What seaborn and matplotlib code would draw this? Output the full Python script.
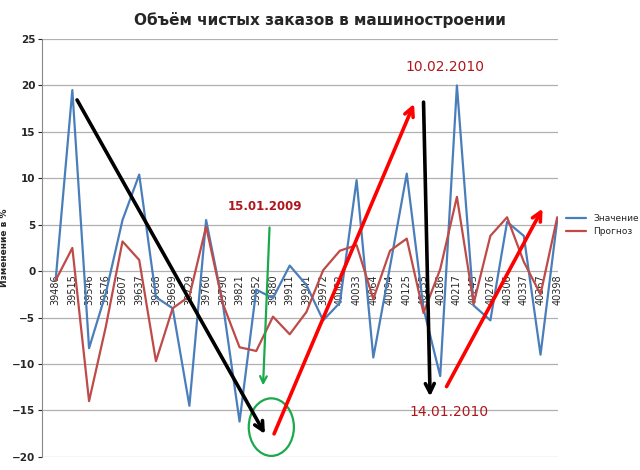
import matplotlib
matplotlib.use("Agg")
import matplotlib.pyplot as plt
from matplotlib.patches import Ellipse
import seaborn as sns
import pandas as pd

dates = [39486, 39515, 39546, 39576, 39607, 39637, 39668, 39699, 39729, 39760, 39790,
         39821, 39852, 39880, 39911, 39941, 39972, 40002, 40033, 40064, 40094, 40125,
         40155, 40186, 40217, 40245, 40276, 40306, 40337, 40367, 40398]
znach = [-1, 19.5, -8.3, -2.4, 5.5, 10.4, -2.8, -4, -14.5, 5.5, -3.5, -16.2, -2, -2.9, 0.6,
         -1.5, -5.3, -3.4, 9.8, -9.3, 0.5, 10.5, -4, -11.3, 20, -3.7, -5.3, 5.3, 3.8, -9, 5.5]
prognoz = [-1, 2.5, -14, -6, 3.2, 1.2, -9.7, -4, -2.7, 4.8, -3.5, -8.2, -8.6, -4.9, -6.8,
           -4.4, 0.1, 2.2, 2.8, -3, 2.2, 3.5, -4.5, 0.2, 8, -3.5, 3.8, 5.8, 1, -2.5, 5.8]

idx = list(range(len(dates)))
df = pd.DataFrame({"i": idx * 2, "v": znach + prognoz,
                   "s": ["Значение"] * len(idx) + ["Прогноз"] * len(idx)})

sns.set_style("white")
fig = plt.figure(figsize=(6.4, 4.7), dpi=100)
ax = fig.add_axes([0.066, 0.028, 0.806, 0.889])
sns.lineplot(data=df, x="i", y="v", hue="s", palette=["#4a7ebb", "#be4b48"], lw=1.6, ax=ax)
ax.set_xlim(-0.8, 30.05)
ax.set_ylim(-20, 25)
ax.set_yticks(range(-20, 26, 5))
ax.yaxis.grid(True, color="#b0b0b0", lw=0.9)
ax.spines["bottom"].set_position(("data", 0))
for s in ["top", "right"]:
    ax.spines[s].set_visible(False)
ax.spines["bottom"].set_visible(False)
ax.spines["left"].set_color("#888888")
ax.set_xticks(idx)
ax.set_xticklabels([str(d) for d in dates], rotation=90, fontsize=7, va="top")
ax.tick_params(axis="x", length=0, pad=2)
ax.tick_params(axis="y", labelsize=7.5, length=3, left=True, pad=2)
for t in ax.get_yticklabels():
    t.set_fontweight("bold")
ax.set_xlabel("")
ax.set_ylabel("Изменение в %", fontsize=6.5, fontweight="bold", labelpad=2)
ax.legend(title=None, loc="center left", bbox_to_anchor=(1.0, 0.555), frameon=False,
          fontsize=6.5, handlelength=2.2)
fig.suptitle("Объём чистых заказов в машиностроении", fontsize=11, fontweight="bold", y=0.975)

def arr(x0, y0, x1, y1, c):
    ax.annotate("", xy=(x1, y1), xytext=(x0, y0),
                arrowprops=dict(arrowstyle="->", color=c, lw=2.6, mutation_scale=16))

arr(1.2, 18.7, 12.6, -17.8, "black")
arr(13.0, -17.8, 21.5, 18.3, "red")
arr(22.0, 18.5, 22.4, -13.8, "black")
arr(23.3, -12.7, 29.2, 7.0, "red")
ax.annotate("", xy=(12.4, -12.6), xytext=(12.8, 5.0),
            arrowprops=dict(arrowstyle="->", color="#1ca84c", lw=1.6, mutation_scale=12))
ax.add_patch(Ellipse((12.9, -16.8), 2.7, 6.2, fill=False, ec="#1ca84c", lw=1.6))
ax.text(12.5, 6.6, "15.01.2009", color="#b0161c", fontsize=8.5, fontweight="bold", ha="center")
ax.text(23.3, 21.6, "10.02.2010", color="#b0161c", fontsize=10, ha="center")
ax.text(23.5, -15.6, "14.01.2010", color="#b0161c", fontsize=10, ha="center")
fig.savefig("out.png", dpi=100)
